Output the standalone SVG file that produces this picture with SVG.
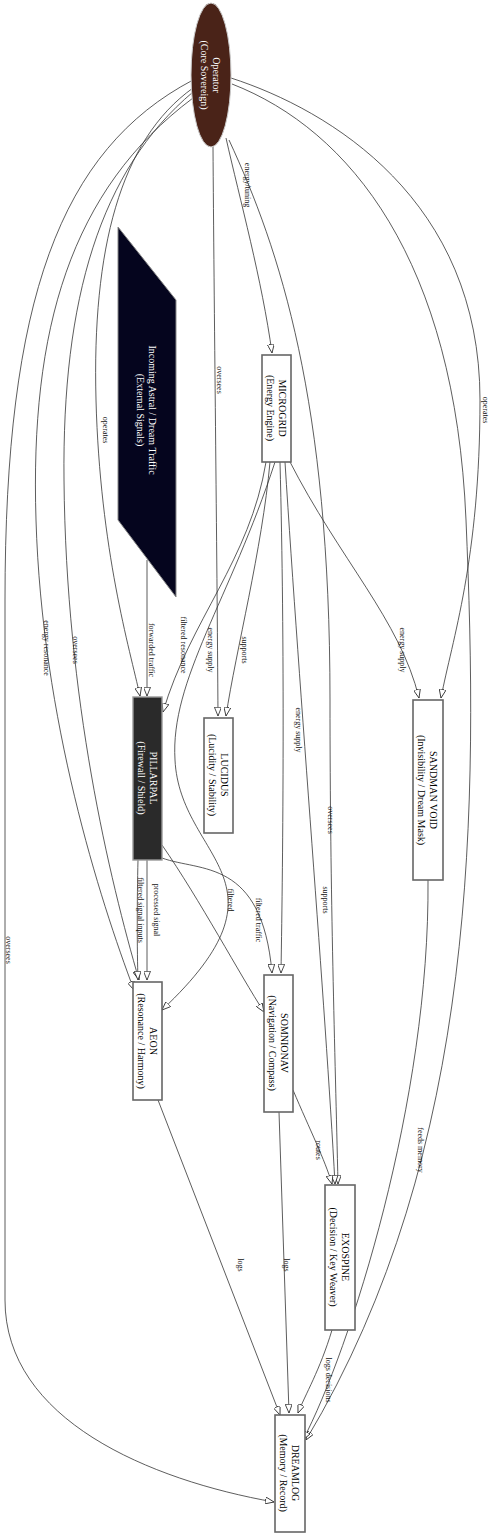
<svg xmlns="http://www.w3.org/2000/svg" width="491" height="1536" viewBox="0 0 491 1536">
<style>
.e{fill:none;stroke:#333;stroke-width:0.8}
.n{fill:#fff;stroke:#666;stroke-width:1.6}
.t{font-family:"Liberation Serif",serif;font-size:10px;text-anchor:middle;fill:#000}
.w{fill:#fff}
.l{font-family:"Liberation Serif",serif;font-size:8px;text-anchor:middle;fill:#111}
</style>
<defs>
<marker id="a" viewBox="0 0 10 8" refX="10" refY="4" markerWidth="9" markerHeight="7" orient="auto" markerUnits="userSpaceOnUse">
<path d="M0,0 L10,4 L0,8 Z" fill="#fff" stroke="#333" stroke-width="1"/>
</marker>
</defs>
<rect width="491" height="1536" fill="#fff"/>
<g id="connectors">
<path class="e" marker-end="url(#a)" d="M226,138 C240,200 262,280 272,353"/>
<path class="e" marker-end="url(#a)" d="M213,147 C214,300 217,550 218,716"/>
<path class="e" marker-end="url(#a)" d="M231,78 C330,110 480,200 480,400 C480,560 452,640 441,698"/>
<path class="e" marker-end="url(#a)" d="M193,88 C120,140 92,250 96,400 C100,550 130,650 140,696"/>
<path class="e" marker-end="url(#a)" d="M193,92 C100,170 62,300 64,480 C66,700 110,880 139,980"/>
<path class="e" marker-end="url(#a)" d="M193,98 C70,190 30,330 36,520 C42,720 100,900 134,990"/>
<path class="e" marker-end="url(#a)" d="M193,80 C60,150 5,300 5,600 L5,1300 C5,1420 150,1480 274,1502"/>
<path class="e" marker-end="url(#a)" d="M229,140 C280,250 330,400 330,700 C330,900 335,1050 338,1184"/>
<path class="e" marker-end="url(#a)" d="M232,84 C350,130 455,260 466,520 C478,800 480,1150 306,1440"/>
<path class="e" marker-end="url(#a)" d="M147,560 L147,696"/>
<path class="e" marker-end="url(#a)" d="M270,462 C262,550 236,650 226,716"/>
<path class="e" marker-end="url(#a)" d="M266,462 C250,560 190,620 163,712"/>
<path class="e" marker-end="url(#a)" d="M289,460 C340,560 400,620 419,698"/>
<path class="e" marker-end="url(#a)" d="M280,462 C285,650 283,850 281,973"/>
<path class="e" marker-end="url(#a)" d="M285,462 C300,700 325,1000 335,1184"/>
<path class="e" marker-end="url(#a)" d="M275,462 C230,600 170,680 175,760 C180,860 300,880 162,1010"/>
<path class="e" marker-end="url(#a)" d="M138,860 C137,900 137,950 138,980"/>
<path class="e" marker-end="url(#a)" d="M147,860 L147,980"/>
<path class="e" marker-end="url(#a)" d="M162,858 C200,872 262,858 272,973"/>
<path class="e" marker-end="url(#a)" d="M162,845 C200,900 240,975 264,1012"/>
<path class="e" marker-end="url(#a)" d="M158,1100 L280,1415"/>
<path class="e" marker-end="url(#a)" d="M279,1112 L289,1413"/>
<path class="e" marker-end="url(#a)" d="M293,1090 C310,1130 325,1160 332,1184"/>
<path class="e" marker-end="url(#a)" d="M332,1330 C320,1370 305,1395 298,1413"/>
<path class="e" marker-end="url(#a)" d="M428,880 C430,1100 350,1350 303,1440"/>
<g class="l">
<text transform="translate(247,185) rotate(90)" y="2.5">energy/tuning</text>
<text transform="translate(219,380) rotate(90)" y="2.5">oversees</text>
<text transform="translate(485,410) rotate(90)" y="2.5">operates</text>
<text transform="translate(105,430) rotate(90)" y="2.5">operates</text>
<text transform="translate(75,650) rotate(90)" y="2.5">oversees</text>
<text transform="translate(46,648) rotate(90)" y="2.5">energy resonance</text>
<text transform="translate(8,950) rotate(90)" y="2.5">oversees</text>
<text transform="translate(330,820) rotate(90)" y="2.5">oversees</text>
<text transform="translate(151,650) rotate(90)" y="2.5">forwarded traffic</text>
<text transform="translate(183,645) rotate(90)" y="2.5">filtered resonance</text>
<text transform="translate(210,650) rotate(90)" y="2.5">energy supply</text>
<text transform="translate(244,650) rotate(90)" y="2.5">supports</text>
<text transform="translate(402,650) rotate(90)" y="2.5">energy supply</text>
<text transform="translate(298,730) rotate(90)" y="2.5">energy supply</text>
<text transform="translate(325,900) rotate(90)" y="2.5">supports</text>
<text transform="translate(140,910) rotate(90)" y="2.5">filtered signal inputs</text>
<text transform="translate(156,910) rotate(90)" y="2.5">processed signal</text>
<text transform="translate(258,920) rotate(90)" y="2.5">filtered traffic</text>
<text transform="translate(230,900) rotate(90)" y="2.5">filtered</text>
<text transform="translate(240,1265) rotate(90)" y="2.5">logs</text>
<text transform="translate(286,1265) rotate(90)" y="2.5">logs</text>
<text transform="translate(318,1150) rotate(90)" y="2.5">routes</text>
<text transform="translate(328,1380) rotate(90)" y="2.5">logs decisions</text>
<text transform="translate(420,1150) rotate(90)" y="2.5">feeds memory</text>
</g>
</g>
<g id="operator">
<ellipse cx="211" cy="75" rx="20" ry="72" fill="#4a2318" stroke="#ccc" stroke-width="1"/>
<g transform="translate(211,75) rotate(90)"><text class="t w" y="-2">Operator</text><text class="t w" y="10">(Core Sovereign)</text></g>
</g>
<g id="incoming">
<polygon points="118,227 176,300 176,597 118,520" fill="#05051e" stroke="#888" stroke-width="1"/>
<g transform="translate(147,410) rotate(90)"><text class="t w" y="-2">Incoming Astral / Dream Traffic</text><text class="t w" y="10">(External Signals)</text></g>
</g>
<g id="pillarpal">
<rect x="133" y="697" width="29" height="163" fill="#2a2a2a" stroke="#999" stroke-width="1.4"/>
<g transform="translate(147.5,778) rotate(90)"><text class="t w" y="-2">PILLARPAL</text><text class="t w" y="10">(Firewall / Shield)</text></g>
</g>
<g id="microgrid">
<rect class="n" x="262" y="355" width="29" height="107"/>
<g transform="translate(276.5,408) rotate(90)"><text class="t" y="-2">MICROGRID</text><text class="t" y="10">(Energy Engine)</text></g>
</g>
<g id="lucidus">
<rect class="n" x="204" y="718" width="29" height="115"/>
<g transform="translate(218.5,775) rotate(90)"><text class="t" y="-2">LUCIDUS</text><text class="t" y="10">(Lucidity / Stability)</text></g>
</g>
<g id="sandman">
<rect class="n" x="413" y="700" width="30" height="180"/>
<g transform="translate(428,790) rotate(90)"><text class="t" y="-2">SANDMAN VOID</text><text class="t" y="10">(Invisibility / Dream Mask)</text></g>
</g>
<g id="somnionav">
<rect class="n" x="264" y="975" width="29" height="137"/>
<g transform="translate(278.5,1043) rotate(90)"><text class="t" y="-2">SOMNIONAV</text><text class="t" y="10">(Navigation / Compass)</text></g>
</g>
<g id="aeon">
<rect class="n" x="133" y="982" width="29" height="118"/>
<g transform="translate(147.5,1041) rotate(90)"><text class="t" y="-2">AEON</text><text class="t" y="10">(Resonance / Harmony)</text></g>
</g>
<g id="exospine">
<rect class="n" x="325" y="1185" width="30" height="145"/>
<g transform="translate(340,1257) rotate(90)"><text class="t" y="-2">EXOSPINE</text><text class="t" y="10">(Decision / Key Weaver)</text></g>
</g>
<g id="dreamlog">
<rect class="n" x="275" y="1415" width="30" height="117"/>
<g transform="translate(290,1473) rotate(90)"><text class="t" y="-2">DREAMLOG</text><text class="t" y="10">(Memory / Record)</text></g>
</g>
</svg>
